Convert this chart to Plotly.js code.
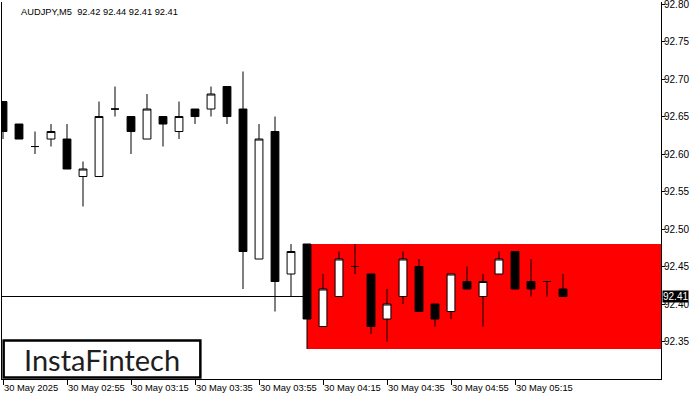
<!DOCTYPE html>
<html>
<head>
<meta charset="utf-8">
<script src="https://cdn.plot.ly/plotly-3.0.1.min.js"></script>
<style>
html,body{margin:0;padding:0;background:#fff;}
#chart{width:700px;height:400px;}
</style>
</head>
<body>
<div id="chart"></div>
<script>
// 5-minute candles, 30 May 2025
var times = ["02:35","02:40","02:45","02:50","02:55","03:00","03:05","03:10","03:15","03:20","03:25","03:30",
             "03:35","03:40","03:45","03:50","03:55","04:00","04:05","04:10","04:15","04:20","04:25","04:30",
             "04:35","04:40","04:45","04:50","04:55","05:00","05:05","05:10","05:15","05:20","05:25","05:30"];
var openP  = [92.67,92.64,92.61,92.62,92.62,92.57,92.57,92.66,92.65,92.62,92.65,92.63,
              92.66,92.66,92.69,92.66,92.46,92.63,92.44,92.48,92.37,92.41,92.45,92.44,
              92.38,92.41,92.45,92.40,92.39,92.43,92.41,92.44,92.47,92.43,92.43,92.42];
var highP  = [92.67,92.64,92.63,92.64,92.64,92.59,92.67,92.69,92.65,92.68,92.65,92.67,
              92.66,92.69,92.69,92.71,92.64,92.65,92.48,92.48,92.44,92.47,92.48,92.44,
              92.42,92.47,92.46,92.40,92.44,92.45,92.44,92.47,92.47,92.46,92.43,92.44];
var lowP   = [92.62,92.62,92.60,92.61,92.58,92.53,92.57,92.65,92.60,92.62,92.61,92.62,
              92.64,92.65,92.64,92.42,92.46,92.39,92.41,92.34,92.37,92.41,92.44,92.36,
              92.35,92.40,92.39,92.37,92.38,92.42,92.37,92.44,92.42,92.41,92.41,92.41];
var closeP = [92.63,92.62,92.61,92.63,92.58,92.58,92.65,92.66,92.63,92.66,92.64,92.65,
              92.65,92.68,92.65,92.47,92.62,92.43,92.47,92.38,92.42,92.46,92.45,92.37,
              92.40,92.46,92.39,92.38,92.44,92.42,92.43,92.46,92.42,92.42,92.43,92.41];
var tickIdx = [0,4,8,12,16,20,24,28,32];
var tickLabels = ["30 May 2025","30 May 02:55","30 May 03:15","30 May 03:35","30 May 03:55",
                  "30 May 04:15","30 May 04:35","30 May 04:55","30 May 05:15"];
var yTicks = [92.35,92.40,92.45,92.50,92.55,92.60,92.65,92.70,92.75,92.80];
var symbol = "AUDJPY,M5";
var currentPrice = 92.41;
var patternStart = "04:10";
var logoText = "InstaFintech";

var xs = times.map(function(t,i){return i;});
var last = times.length - 1;
var titleText = symbol + "\u00A0\u00A0" + [openP[last],highP[last],lowP[last],closeP[last]].map(function(v){return v.toFixed(2);}).join(" ");
var ps = times.indexOf(patternStart);

var FONT = "Liberation Sans, Arial, sans-serif";
var xRange = [-0.0625, 41.125];

var trace = {
  type: "candlestick",
  x: xs, open: openP, high: highP, low: lowP, close: closeP,
  increasing: {line: {color: "#000", width: 1}, fillcolor: "#fff"},
  decreasing: {line: {color: "#000", width: 1}, fillcolor: "#000"},
  whiskerwidth: 0,
  hoverinfo: "skip",
  showlegend: false
};

var layout = {
  width: 700, height: 400,
  margin: {l: 2, r: 39, t: 2, b: 21, pad: 0},
  paper_bgcolor: "#fff", plot_bgcolor: "#fff",
  showlegend: false,
  font: {family: FONT, size: 10, color: "#000"},
  xaxis: {
    range: xRange, type: "linear",
    tickvals: tickIdx, ticktext: tickLabels,
    tickangle: 0,
    ticks: "outside", ticklen: 5, tickcolor: "#000", tickwidth: 1,
    ticklabelposition: "outside right",
    ticklabeloverflow: "allow",
    showline: true, linecolor: "#000", linewidth: 1,
    showgrid: false, zeroline: false,
    rangeslider: {visible: false},
    tickfont: {family: FONT, size: 9.4, color: "#000"},
    fixedrange: true
  },
  yaxis: {
    side: "right", range: [92.30, 92.8027],
    tickvals: yTicks, ticktext: yTicks.map(function(v){return v.toFixed(2);}),
    ticks: "outside", ticklen: 3, tickcolor: "#000", tickwidth: 1,
    ticklabeloverflow: "allow",
    ticklabelstandoff: -3,
    showline: true, linecolor: "#000", linewidth: 1, mirror: true,
    showgrid: false, zeroline: false,
    tickfont: {family: FONT, size: 10, color: "#000"},
    fixedrange: true
  },
  shapes: [
    {type: "rect", layer: "below", xref: "x", yref: "y",
     x0: xs[ps], x1: xRange[1], y0: lowP[ps], y1: highP[ps],
     fillcolor: "#ff0000", line: {width: 0}},
    {type: "line", layer: "below", xref: "paper", yref: "y",
     x0: 0, x1: 1, y0: currentPrice, y1: currentPrice,
     line: {color: "#000", width: 1}},
    {type: "rect", layer: "above", xref: "paper", yref: "paper",
     x0: 0.0025, x1: 0.301, y0: 0.004, y1: 0.102,
     fillcolor: "#fff", line: {color: "#000", width: 2.5}}
  ],
  annotations: [
    {xref: "paper", yref: "paper", x: 0.0258, y: 0.9735, xanchor: "left", yanchor: "middle",
     text: titleText, showarrow: false, font: {family: FONT, size: 9.3, color: "#000"}},
    {xref: "paper", yref: "y", x: 1, y: currentPrice, xanchor: "left", yanchor: "middle", xshift: 1,
     text: currentPrice.toFixed(2), showarrow: false, bgcolor: "#000", borderpad: 0,
     font: {family: FONT, size: 10, color: "#fff"}},
    {xref: "paper", yref: "paper", x: 0.1517, y: 0.053, xanchor: "center", yanchor: "middle",
     text: logoText, showarrow: false, font: {family: "Lato, Inter, sans-serif", size: 29, color: "#1e1e1e"}}
  ]
};

Plotly.newPlot("chart", [trace], layout, {staticPlot: true, displayModeBar: false});
</script>
</body>
</html>
